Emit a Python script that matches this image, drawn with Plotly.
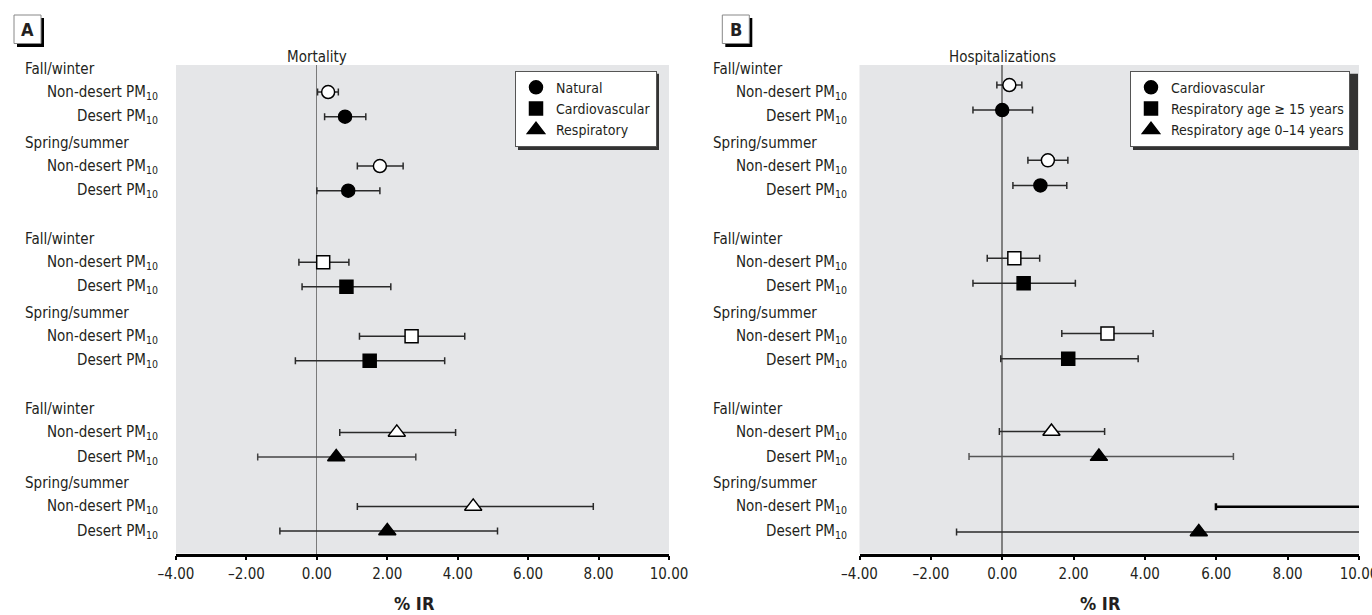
import plotly.graph_objects as go

# ---------------- data ----------------
season_labels = ["Fall/winter", "Spring/summer"]
region_labels = ["Non-desert PM<sub>10</sub>", "Desert PM<sub>10</sub>"]
x_tickvals = [-4, -2, 0, 2, 4, 6, 8, 10]
x_ticktext = ["–4.00", "–2.00", "0.00", "2.00", "4.00", "6.00", "8.00", "10.00"]

# order of values in every list: FW non-desert, FW desert, SS non-desert, SS desert
mort_names = ["Natural", "Cardiovascular", "Respiratory"]
mort_natural_est = [0.32, 0.80, 1.79, 0.89]
mort_natural_lo = [0.02, 0.22, 1.15, 0.00]
mort_natural_hi = [0.61, 1.39, 2.45, 1.79]
mort_cardio_est = [0.18, 0.84, 2.69, 1.50]
mort_cardio_lo = [-0.51, -0.42, 1.21, -0.61]
mort_cardio_hi = [0.91, 2.10, 4.20, 3.63]
mort_resp_est = [2.27, 0.55, 4.44, 2.00]
mort_resp_lo = [0.65, -1.68, 1.15, -1.05]
mort_resp_hi = [3.94, 2.81, 7.85, 5.13]

hosp_names = ["Cardiovascular", "Respiratory age ≥ 15 years", "Respiratory age 0–14 years"]
hosp_cardio_est = [0.20, 0.00, 1.28, 1.07]
hosp_cardio_lo = [-0.15, -0.82, 0.72, 0.30]
hosp_cardio_hi = [0.55, 0.85, 1.84, 1.81]
hosp_resp15_est = [0.34, 0.60, 2.95, 1.85]
hosp_resp15_lo = [-0.42, -0.82, 1.67, -0.04]
hosp_resp15_hi = [1.05, 2.05, 4.23, 3.81]
hosp_resp014_est = [1.38, 2.71, 12.0, 5.51]   # SS non-desert estimate is off-scale (estimated)
hosp_resp014_lo = [-0.08, -0.93, 5.99, -1.28]
hosp_resp014_hi = [2.87, 6.48, 18.0, 13.0]     # off-scale upper limits (estimated)

# ---------------- layout helpers ----------------
W, H = 1372, 615
FONT = "Liberation Sans Narrow, DejaVu Sans Condensed, Arial Narrow, sans-serif"
TXT = "#231f20"
BG = "#e5e6e8"
SYMBOLS = ["circle", "square", "triangle-up"]
SIZES = [13, 13, 15]
ROW_OFFSETS = [0, 1, 3, 4]
GROUP_STEP = 6.9
# (panel, series, row) -> error-bar line style overrides
ERR_STYLE = {(1, 2, 2): dict(thickness=2.5, color="black"),
             (1, 2, 1): dict(color="#555555"),
             (0, 2, 1): dict(color="#444444")}


def px(x):
    return x / W


def py(y):
    return 1 - y / H


def row_pos(g):
    return [g * GROUP_STEP + o for o in ROW_OFFSETS]


fig = go.Figure()

panels = [
    dict(xa="x", ya="y", legend="legend", names=mort_names,
         data=[(mort_natural_est, mort_natural_lo, mort_natural_hi),
               (mort_cardio_est, mort_cardio_lo, mort_cardio_hi),
               (mort_resp_est, mort_resp_lo, mort_resp_hi)]),
    dict(xa="x2", ya="y2", legend="legend2", names=hosp_names,
         data=[(hosp_cardio_est, hosp_cardio_lo, hosp_cardio_hi),
               (hosp_resp15_est, hosp_resp15_lo, hosp_resp15_hi),
               (hosp_resp014_est, hosp_resp014_lo, hosp_resp014_hi)]),
]

for pi, p in enumerate(panels):
    for g, (name, (est, lo, hi)) in enumerate(zip(p["names"], p["data"])):
        ys = row_pos(g)
        # desert (filled) rows first so that the legend shows filled symbols
        for k, i in enumerate([1, 3, 0, 2]):
            filled = i in (1, 3)
            err = dict(type="data", symmetric=False,
                       array=[hi[i] - est[i]], arrayminus=[est[i] - lo[i]],
                       color="#2a2a2a", thickness=1.5, width=3.5)
            err.update(ERR_STYLE.get((pi, g, i), {}))
            fig.add_trace(go.Scatter(
                x=[est[i]], y=[ys[i]], mode="markers",
                name=name, showlegend=(k == 0), legend=p["legend"],
                legendgroup=f"{pi}-{g}",
                xaxis=p["xa"], yaxis=p["ya"],
                marker=dict(symbol=SYMBOLS[g], size=SIZES[g],
                            color="black" if filled else "white",
                            line=dict(color="black", width=1.5)),
                error_x=err,
                hoverinfo="x+y",
            ))

xcommon = dict(range=[-4, 10], tickvals=x_tickvals, ticktext=x_ticktext,
               showgrid=False, zeroline=True, showline=True, linecolor="black",
               linewidth=2.5, ticks="outside", ticklen=4, tickwidth=1.5,
               tickcolor="black", tickfont=dict(size=15, color=TXT, family=FONT),
               ticklabelstandoff=1, ticklabeloverflow="allow", fixedrange=True)
ycommon = dict(showgrid=False, zeroline=False, showticklabels=False,
               showline=False, ticks="", fixedrange=True)

LEG_A = (515, 70.7, 656, 147)      # approximate legend box (left, top, right, bottom) px
LEG_B = (1130, 70.7, 1355, 147)

fig.update_layout(
    width=W, height=H,
    margin=dict(l=0, r=0, t=0, b=0, pad=0, autoexpand=False),
    paper_bgcolor="white", plot_bgcolor=BG,
    font=dict(family=FONT, color=TXT, size=15),
    xaxis=dict(domain=[px(176), px(669)], anchor="y",
               zerolinecolor="#7a7a7a", zerolinewidth=1, **xcommon),
    xaxis2=dict(domain=[px(859.5), px(1359)], anchor="y2",
                zerolinecolor="#808080", zerolinewidth=2, **xcommon),
    yaxis=dict(domain=[py(553.5), py(65)], range=[18.71, -1.095], anchor="x", **ycommon),
    yaxis2=dict(domain=[py(553.5), py(65)], range=[18.66, -0.797], anchor="x2", **ycommon),
    legend=dict(x=px(LEG_A[0]), y=py(LEG_A[1]), xanchor="left", yanchor="top",
                bgcolor="white", bordercolor="#555555", borderwidth=1,
                tracegroupgap=0,
                font=dict(size=14, color=TXT, family=FONT), itemclick=False),
    legend2=dict(x=px(LEG_B[0]), y=py(LEG_B[1]), xanchor="left", yanchor="top",
                 bgcolor="white", bordercolor="#555555", borderwidth=1,
                 tracegroupgap=0,
                 font=dict(size=14, color=TXT, family=FONT), itemclick=False),
)

shapes = []
annotations = []

# legend shadows
for (x0, y0, x1, y1) in (LEG_A, LEG_B):
    shapes.append(dict(type="rect", xref="paper", yref="paper",
                       x0=px(x0 + 3), x1=px(x1 + 3), y0=py(y1 + 3), y1=py(y0 + 3),
                       fillcolor="#333333", line=dict(width=0), layer="above"))

# panel letters
for letter, bx in (("A", 14), ("B", 722.3)):
    shapes.append(dict(type="rect", xref="paper", yref="paper",
                       x0=px(bx + 3), x1=px(bx + 30), y0=py(47), y1=py(18),
                       fillcolor="black", line=dict(width=0)))
    shapes.append(dict(type="rect", xref="paper", yref="paper",
                       x0=px(bx), x1=px(bx + 27), y0=py(43.5), y1=py(15),
                       fillcolor="white", line=dict(color="#888888", width=1)))
    annotations.append(dict(text=f"<b>{letter}</b>", xref="paper", yref="paper",
                            x=px(bx + 13.5), y=py(29.5), showarrow=False,
                            xanchor="center", yanchor="middle",
                            font=dict(size=18, color=TXT, family=FONT)))

# panel titles
for title, xa in (("Mortality", "x"), ("Hospitalizations", "x2")):
    annotations.append(dict(text=title, xref=xa, yref="paper", x=0, y=py(57),
                            showarrow=False, xanchor="center", yanchor="middle",
                            font=dict(size=15, color=TXT, family=FONT)))

# x titles
for xc in (414, 1100):
    annotations.append(dict(text="<b>% IR</b>", xref="paper", yref="paper",
                            x=px(xc), y=py(603), showarrow=False,
                            xanchor="center", yanchor="middle",
                            font=dict(size=18, color=TXT, family=FONT)))

# row labels (placed on panel A's row scale)
for head_x, lab_x in ((23, 160), (711, 849)):
    for g in range(3):
        ys = row_pos(g)
        for s in range(2):
            annotations.append(dict(text=season_labels[s], xref="paper", yref="y",
                                    x=px(head_x), y=ys[2 * s] - 0.95, showarrow=False,
                                    xanchor="left", yanchor="middle",
                                    font=dict(size=15, color=TXT, family=FONT)))
            for r in range(2):
                annotations.append(dict(text=region_labels[r], xref="paper", yref="y",
                                        x=px(lab_x), y=ys[2 * s + r], showarrow=False,
                                        xanchor="right", yanchor="middle",
                                        font=dict(size=15, color=TXT, family=FONT)))

fig.update_layout(shapes=shapes, annotations=annotations)
fig.write_html("out.html", config={"displayModeBar": False},
               post_script="document.body.style.margin='0px';document.body.style.padding='0px';")
